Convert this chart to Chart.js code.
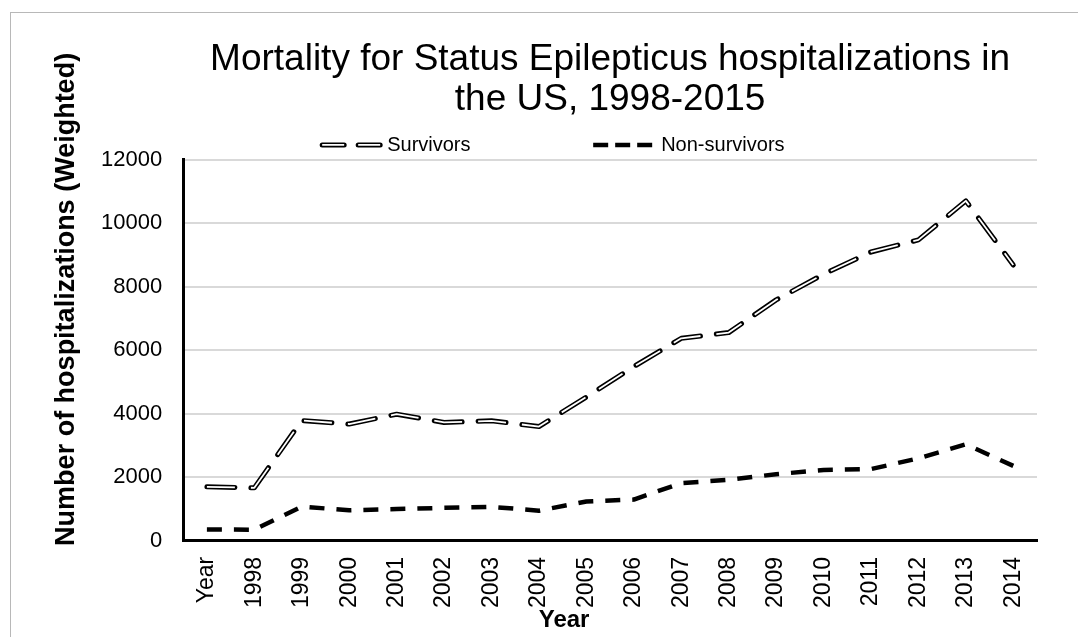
<!DOCTYPE html>
<html>
<head>
<meta charset="utf-8">
<title>Mortality for Status Epilepticus hospitalizations</title>
<script src="https://cdn.jsdelivr.net/npm/chart.js@4.4.0/dist/chart.umd.min.js"></script>
<style>
  html, body { margin: 0; padding: 0; background: #fff; overflow: hidden; }
  #wrap { position: relative; width: 1078px; height: 637px; }
  #frame { position: absolute; left: 10px; top: 12px; width: 1100px; height: 700px;
           border: 1px solid #b8b8b8; pointer-events: none; }
</style>
</head>
<body>
<div id="wrap">
  <canvas id="mortality" width="1078" height="637"></canvas>
  <div id="frame"></div>
</div>
<script>
// Data
const years = ["Year", "1998", "1999", "2000", "2001", "2002", "2003", "2004", "2005",
  "2006", "2007", "2008", "2009", "2010", "2011", "2012", "2013", "2014"];
const survivors = [1700, 1670, 3790, 3680, 3990, 3730, 3780, 3600, 4530,
  5490, 6380, 6560, 7590, 8400, 9100, 9480, 10710, 8690];
const nonSurvivors = [360, 350, 1080, 960, 1000, 1040, 1070, 950, 1240,
  1300, 1820, 1920, 2100, 2230, 2260, 2600, 3040, 2360];
const yTicks = [0, 2000, 4000, 6000, 8000, 10000, 12000];

const FONT = "'Liberation Sans', Arial, sans-serif";
const survivorDash = [28, 16];
const nonSurvivorDash = [15, 12];

// white core stroked on top of the survivors line -> hollow double line look
const doubleLine = {
  id: "doubleLine",
  afterDatasetDraw(chart, args) {
    if (args.index !== 0) return;
    const ctx = chart.ctx;
    const pts = args.meta.data;
    const area = chart.chartArea;
    ctx.save();
    ctx.beginPath();
    ctx.rect(area.left, area.top, area.right - area.left, area.bottom - area.top);
    ctx.clip();
    ctx.beginPath();
    pts.forEach((p, i) => (i === 0 ? ctx.moveTo(p.x, p.y) : ctx.lineTo(p.x, p.y)));
    ctx.setLineDash(survivorDash);
    ctx.lineCap = "butt";
    ctx.lineJoin = "round";
    ctx.lineWidth = 1.8;
    ctx.strokeStyle = "#fff";
    ctx.stroke();
    ctx.restore();
  },
};

// legend + axis titles, placed like the original Excel chart
const extras = {
  id: "extras",
  afterDraw(chart) {
    const ctx = chart.ctx;
    const area = chart.chartArea;
    const y = area.top - 15;
    ctx.save();
    ctx.font = "20px " + FONT;
    ctx.fillStyle = "#000";
    ctx.textBaseline = "middle";

    // Survivors
    let x = area.left + 137;
    ctx.beginPath();
    ctx.moveTo(x + 2, y);
    ctx.lineTo(x + 60, y);
    ctx.setLineDash([22, 14]);
    ctx.lineCap = "round";
    ctx.lineWidth = 5;
    ctx.strokeStyle = "#000";
    ctx.stroke();
    ctx.lineCap = "butt";
    ctx.lineWidth = 1.8;
    ctx.strokeStyle = "#fff";
    ctx.stroke();
    ctx.setLineDash([]);
    ctx.fillText("Survivors", x + 67, y + 1);

    // Non-survivors
    x = area.left + 410;
    ctx.beginPath();
    ctx.moveTo(x, y);
    ctx.lineTo(x + 60, y);
    ctx.setLineDash([15, 7]);
    ctx.lineCap = "butt";
    ctx.lineWidth = 4.5;
    ctx.strokeStyle = "#000";
    ctx.stroke();
    ctx.setLineDash([]);
    ctx.fillText("Non-survivors", x + 68, y + 1);

    // x axis title
    ctx.font = "bold 24px " + FONT;
    ctx.textAlign = "center";
    ctx.fillText("Year", (area.left + area.right) / 2 - 46, chart.height - 17);

    // y axis title (sits higher than the plot centre in the original)
    ctx.font = "bold 27px " + FONT;
    ctx.translate(67, (area.top + area.bottom) / 2 - 51);
    ctx.rotate(-Math.PI / 2);
    ctx.fillText("Number of hospitalizations (Weighted)", 0, 0);
    ctx.restore();
  },
};

const ctx = document.getElementById("mortality").getContext("2d");
new Chart(ctx, {
  type: "line",
  data: {
    labels: years,
    datasets: [
      {
        label: "Survivors",
        data: survivors,
        borderColor: "#000",
        borderWidth: 5,
        borderDash: survivorDash,
        borderCapStyle: "round",
        borderJoinStyle: "round",
        pointRadius: 0,
        tension: 0,
        fill: false,
      },
      {
        label: "Non-survivors",
        data: nonSurvivors,
        borderColor: "#000",
        borderWidth: 4.5,
        borderDash: nonSurvivorDash,
        borderCapStyle: "butt",
        borderJoinStyle: "round",
        pointRadius: 0,
        tension: 0,
        fill: false,
      },
    ],
  },
  options: {
    responsive: false,
    animation: false,
    layout: { padding: { top: 40, left: 80, right: 41, bottom: 13 } },
    scales: {
      x: {
        offset: true,
        grid: { display: false, drawTicks: false },
        border: { color: "#000", width: 3 },
        ticks: {
          color: "#000",
          font: { family: FONT, size: 23 },
          autoSkip: false,
          minRotation: 90,
          maxRotation: 90,
          padding: 16,
        },
      },
      y: {
        min: 0,
        max: 12000,
        afterBuildTicks: (scale) => {
          scale.ticks = yTicks.map((v) => ({ value: v }));
        },
        grid: { color: "#d9d9d9", lineWidth: 2, drawTicks: false },
        border: { color: "#000", width: 3 },
        ticks: {
          color: "#000",
          font: { family: FONT, size: 22 },
          padding: 21,
          callback: (v) => String(v),
        },
      },
    },
    plugins: {
      legend: { display: false },
      tooltip: { enabled: false },
      title: {
        display: true,
        fullSize: false,
        text: ["Mortality for Status Epilepticus hospitalizations in", "the US, 1998-2015"],
        color: "#000",
        font: { family: FONT, size: 37, weight: "normal", lineHeight: 1.08 },
        padding: { top: 0, bottom: 40 },
      },
    },
  },
  plugins: [doubleLine, extras],
});
</script>
</body>
</html>
